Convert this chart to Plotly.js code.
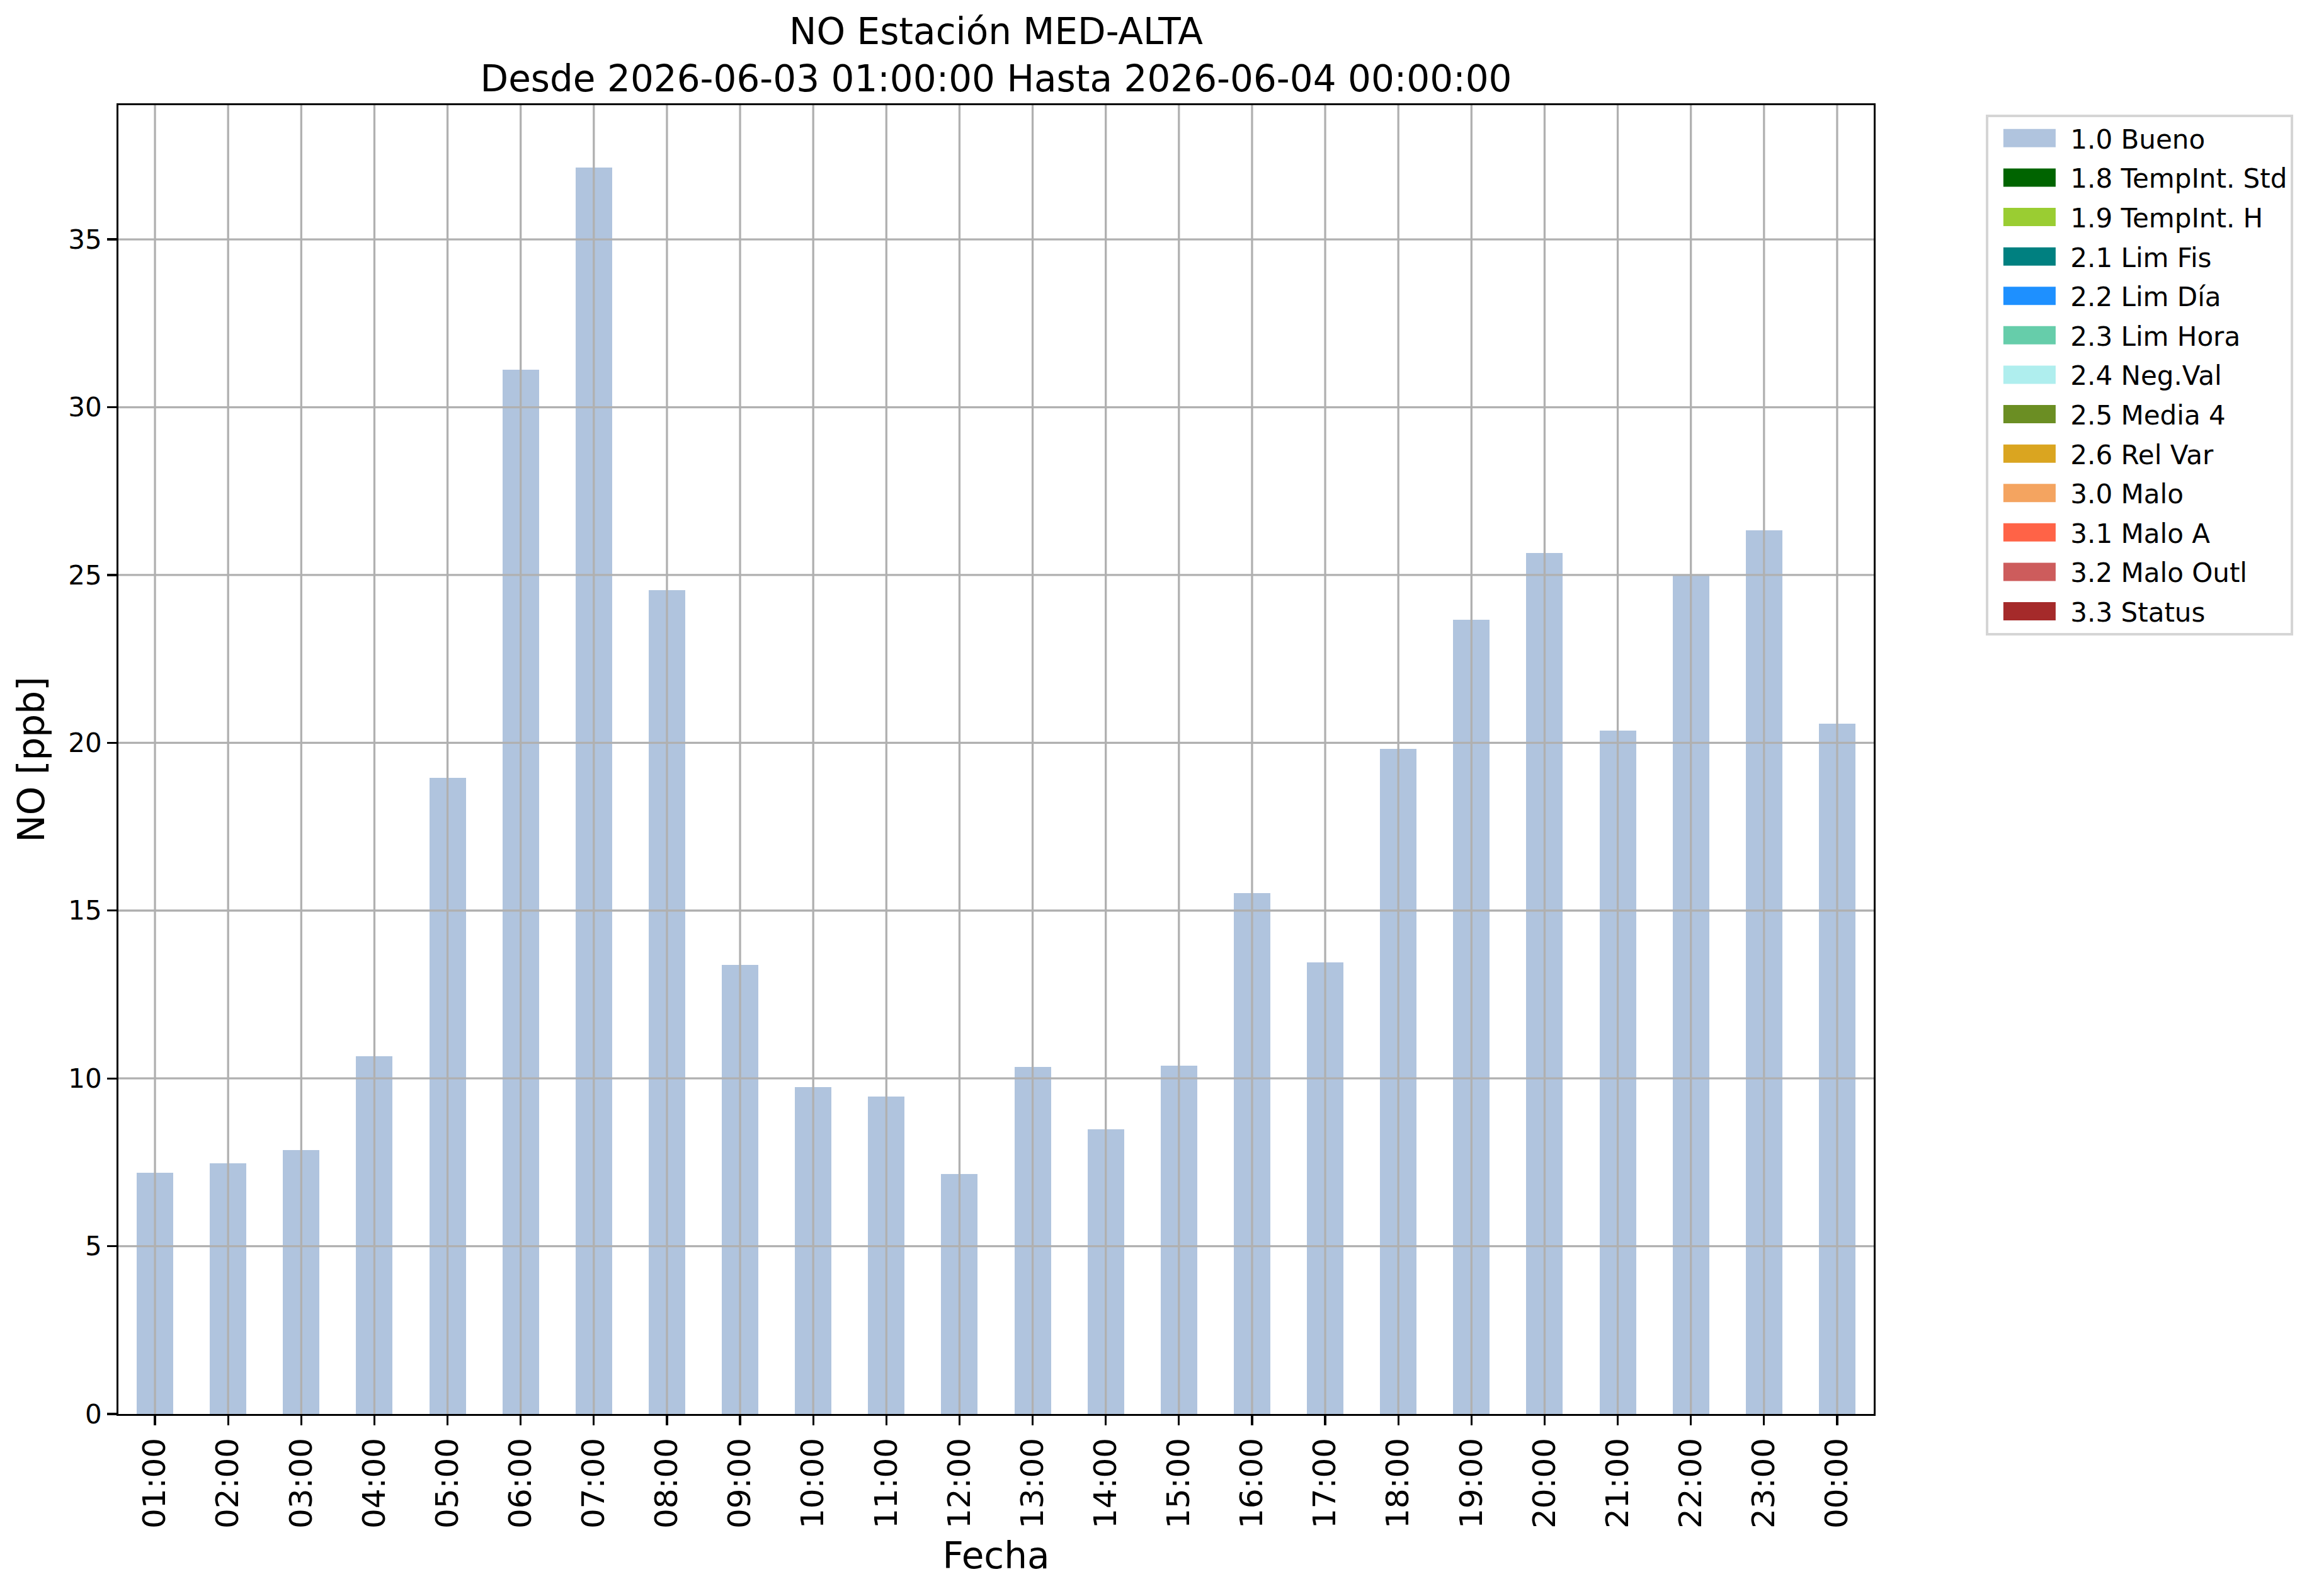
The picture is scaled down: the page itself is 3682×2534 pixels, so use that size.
<!DOCTYPE html>
<html>
<head>
<meta charset="utf-8">
<script src="https://cdn.plot.ly/plotly-3.0.1.min.js"></script>
<style>body{margin:0;background:#fff}</style>
</head>
<body>
<div id="grafico" style="width:3682px;height:2534px"></div>
<script>
var horas = ['01:00','02:00','03:00','04:00','05:00','06:00','07:00','08:00','09:00','10:00','11:00','12:00',
             '13:00','14:00','15:00','16:00','17:00','18:00','19:00','20:00','21:00','22:00','23:00','00:00'];
var valoresNO = [7.19, 7.47, 7.86, 10.66, 18.95, 31.12, 37.14, 24.54, 13.38, 9.75, 9.46, 7.15,
                 10.34, 8.48, 10.37, 15.52, 13.45, 19.81, 23.67, 25.66, 20.37, 25.0, 26.34, 20.57];
var banderas = ['1.0 Bueno','1.8 TempInt. Std','1.9 TempInt. H','2.1 Lim Fis','2.2 Lim Día','2.3 Lim Hora',
                '2.4 Neg.Val','2.5 Media 4','2.6 Rel Var','3.0 Malo','3.1 Malo A','3.2 Malo Outl','3.3 Status'];
var colores = ['#b0c4de','#006400','#9acd32','#008080','#1e90ff','#66cdaa',
               '#afeeee','#6b8e23','#daa520','#f4a460','#ff6347','#cd5c5c','#a52a2a'];
var yTicks = [0, 5, 10, 15, 20, 25, 30, 35];

var fuente = 'DejaVu Sans';
var grid = {color: '#b0b0b0', width: 3.3};

// solo "Bueno" tiene datos, el resto va vacio pero sale en la leyenda
var data = banderas.map(function(b, i) {
  return {
    type: 'bar',
    name: b,
    legendgroup: b,
    x: i === 0 ? horas : [null],
    y: i === 0 ? valoresNO : [null],
    width: 0.5,
    marker: {color: colores[i], line: {width: 0}},
    hoverinfo: 'x+y'
  };
});

// la rejilla de matplotlib queda por encima de las barras
var shapes = [];
horas.forEach(function(h) {
  shapes.push({type: 'line', layer: 'above', xref: 'x', yref: 'paper',
               x0: h, x1: h, y0: 0, y1: 1, line: grid});
});
yTicks.slice(1).forEach(function(v) {
  shapes.push({type: 'line', layer: 'above', xref: 'paper', yref: 'y',
               x0: 0, x1: 1, y0: v, y1: v, line: grid});
});

var layout = {
  width: 3682,
  height: 2534,
  paper_bgcolor: '#ffffff',
  plot_bgcolor: '#ffffff',
  font: {family: fuente, color: '#000000', size: 42},
  barmode: 'stack',
  margin: {l: 188, r: 707, t: 167, b: 289},
  title: {
    text: 'NO Estación MED-ALTA<br>Desde 2026-06-03 01:00:00 Hasta 2026-06-04 00:00:00',
    font: {family: fuente, size: 58},
    xref: 'paper', x: 0.5, xanchor: 'center',
    yref: 'container', y: 0.9725, yanchor: 'middle'
  },
  xaxis: {
    type: 'category',
    categoryorder: 'array',
    categoryarray: horas,
    range: [-0.5, 23.5],
    tickangle: -90,
    tickfont: {family: fuente, size: 50},
    ticks: 'outside', ticklen: 14.6, tickwidth: 3.3, tickcolor: '#000000',
    showline: true, mirror: true, linecolor: '#000000', linewidth: 3.3,
    showgrid: false, zeroline: false,
    title: {text: 'Fecha', font: {family: fuente, size: 58}, standoff: 24}
  },
  yaxis: {
    range: [0, 39.0],
    tickvals: yTicks,
    tickfont: {family: fuente, size: 42},
    ticks: 'outside', ticklen: 14.6, tickwidth: 3.3, tickcolor: '#000000',
    showline: true, mirror: true, linecolor: '#000000', linewidth: 3.3,
    showgrid: false, zeroline: false,
    title: {text: 'NO [ppb]', font: {family: fuente, size: 58}, standoff: 20}
  },
  legend: {
    x: 1.064, xanchor: 'left',
    y: 0.993, yanchor: 'top',
    traceorder: 'grouped',
    tracegroupgap: 5,
    itemwidth: 120,
    font: {family: fuente, size: 42},
    bgcolor: '#ffffff',
    bordercolor: '#d5d5d5',
    borderwidth: 4
  },
  shapes: shapes
};

Plotly.newPlot('grafico', data, layout, {staticPlot: true}).then(function(gd) {
  // parches rectangulares en la leyenda, como los de matplotlib
  gd.querySelectorAll('.legendpoints path').forEach(function(p) {
    p.setAttribute('d', 'M-41.5,14.5H41.5V-14.5H-41.5Z');
    p.style.strokeWidth = '0px';
  });
});
</script>
</body>
</html>
